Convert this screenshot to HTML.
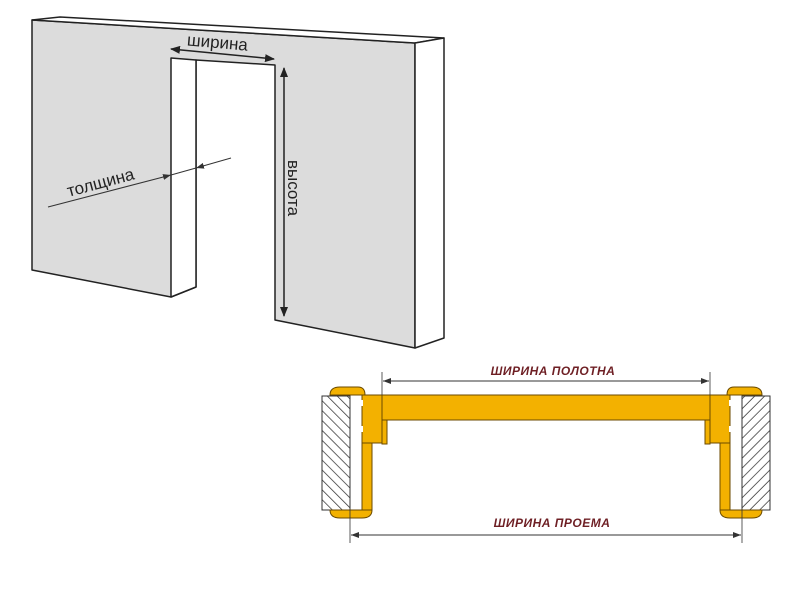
<!DOCTYPE html>
<html><head><meta charset="utf-8"><style>
body{margin:0;background:#fff}
svg{display:block}
</style></head><body>
<svg width="800" height="600" viewBox="0 0 800 600" xmlns="http://www.w3.org/2000/svg">
<defs>
<pattern id="h" width="7" height="7" patternUnits="userSpaceOnUse" patternTransform="rotate(-45)">
<rect width="7" height="7" fill="#fff"/><line x1="0" y1="0" x2="0" y2="7" stroke="#333" stroke-width="1.5"/>
</pattern>
<marker id="a" markerWidth="10" markerHeight="8" refX="9" refY="4" orient="auto-start-reverse" markerUnits="userSpaceOnUse">
<path d="M0,0 L10,4 L0,8 z" fill="#222"/></marker>
<marker id="b" markerWidth="8" markerHeight="6" refX="8" refY="3" orient="auto-start-reverse" markerUnits="userSpaceOnUse">
<path d="M0,0 L8,3 L0,6 z" fill="#333"/></marker>
</defs>
<g stroke="#222" stroke-width="1.5" stroke-linejoin="round">
<polygon points="32,20 415,43 415,348 275,320 275,65 196,60 196,287 171,297 32,270" fill="#dcdcdc"/>
<polygon points="32,20 60,17 444,38 415,43" fill="#fff"/>
<polygon points="415,43 444,38 444,338 415,348" fill="#fff"/>
<polygon points="171,58 196,60 196,287 171,297" fill="#fff"/>
</g>
<line x1="171" y1="49" x2="274" y2="59" stroke="#222" stroke-width="1.5" marker-start="url(#a)" marker-end="url(#a)"/>
<text x="217" y="48" font-family="Liberation Sans, sans-serif" font-size="17" fill="#222" text-anchor="middle" transform="rotate(5 217 48)">ширина</text>
<line x1="284" y1="68" x2="284" y2="316" stroke="#222" stroke-width="1.5" marker-start="url(#a)" marker-end="url(#a)"/>
<text x="0" y="0" font-family="Liberation Sans, sans-serif" font-size="17" fill="#222" text-anchor="middle" transform="translate(288,188) rotate(90)">высота</text>
<line x1="48" y1="207" x2="171" y2="175" stroke="#333" stroke-width="1" marker-end="url(#b)"/>
<line x1="171" y1="175" x2="196" y2="168" stroke="#333" stroke-width="1"/>
<line x1="231" y1="158" x2="196" y2="168" stroke="#333" stroke-width="1" marker-end="url(#b)"/>
<text x="0" y="0" font-family="Liberation Sans, sans-serif" font-size="17" fill="#222" text-anchor="middle" transform="translate(102,188) rotate(-15)">толщина</text>
<g id="L" stroke="#6b4a00" stroke-width="1">
<rect x="322" y="396" width="28" height="114" fill="url(#h)" stroke="#333"/>
<path d="M330,395 Q330,387 340,387 L358,387 Q365,387 365,395 Z" fill="#f3b100"/>
<path d="M330,510 Q330,518 340,518 L362,518 Q372,518 372,510 Z" fill="#f3b100"/>
<rect x="362" y="395" width="20" height="48" fill="#f3b100"/>
<rect x="362" y="443" width="10" height="67" fill="#f3b100"/>
<rect x="382" y="420" width="5" height="24" fill="#f3b100"/>
<rect x="359" y="400" width="4" height="6" fill="#fff" stroke="none"/>
<rect x="359" y="426" width="4" height="6" fill="#fff" stroke="none"/>
</g>
<use href="#L" transform="translate(1092,0) scale(-1,1)"/>
<rect x="382" y="395" width="328" height="25" fill="#f3b100" stroke="#6b4a00" stroke-width="1"/>
<line x1="382" y1="372" x2="382" y2="395" stroke="#333" stroke-width="0.8"/>
<line x1="710" y1="372" x2="710" y2="395" stroke="#333" stroke-width="0.8"/>
<line x1="383" y1="381" x2="709" y2="381" stroke="#333" stroke-width="1" marker-start="url(#b)" marker-end="url(#b)"/>
<line x1="350" y1="510" x2="350" y2="543" stroke="#333" stroke-width="0.8"/>
<line x1="742" y1="510" x2="742" y2="543" stroke="#333" stroke-width="0.8"/>
<line x1="351" y1="535" x2="741" y2="535" stroke="#333" stroke-width="1" marker-start="url(#b)" marker-end="url(#b)"/>
<text x="553" y="375" font-family="Liberation Sans, sans-serif" font-size="12" font-weight="bold" font-style="italic" fill="#6e1f24" text-anchor="middle" letter-spacing="0.5">ШИРИНА ПОЛОТНА</text>
<text x="552" y="527" font-family="Liberation Sans, sans-serif" font-size="12" font-weight="bold" font-style="italic" fill="#6e1f24" text-anchor="middle" letter-spacing="0.5">ШИРИНА ПРОЕМА</text>
</svg>
</body></html>
